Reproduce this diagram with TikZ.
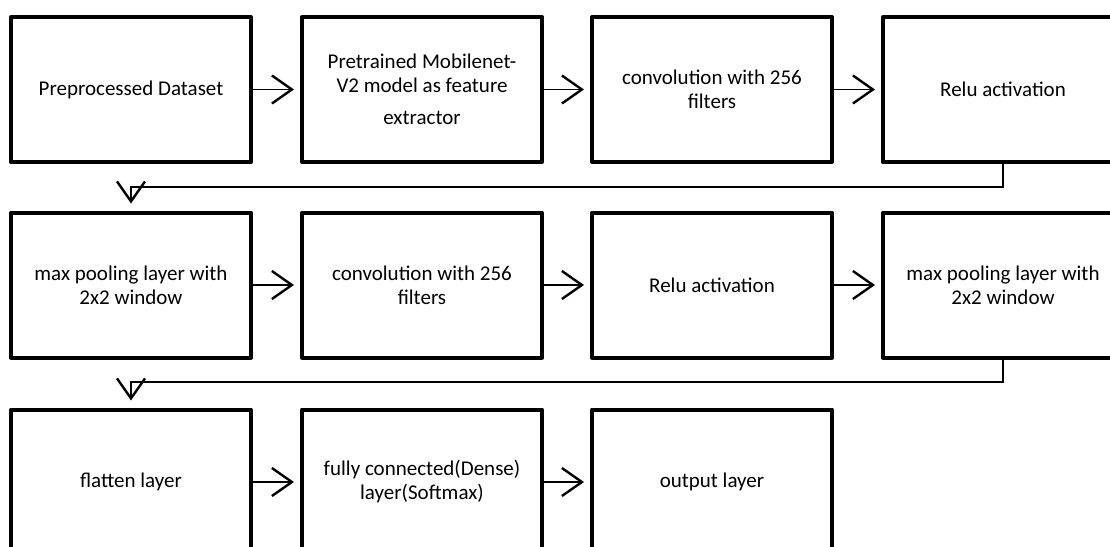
\documentclass[tikz,border=0pt]{standalone}
\usepackage{fontspec}
\setmainfont{Carlito}
\usetikzlibrary{arrows.meta}
\begin{document}
\begin{tikzpicture}[x=1pt,y=-1pt,
  stage/.style={draw, line width=4pt, line join=round, rectangle,
    minimum width=240pt, minimum height=145pt, inner sep=0pt,
    align=center, font=\fontsize{21}{24}\selectfont},
  flow/.style={line width=1.4pt,
    -{Straight Barb[length=20pt 0 0,width=28pt 0 0,line width=2.4pt]}},
  next/.style={flow, shorten >=6pt},
  wrap/.style={flow, shorten >=7pt}]
\useasboundingbox (0,0) rectangle (1110,546);
\clip (0,0) rectangle (1110,546);
\fill[white] (0,0) rectangle (1110,546);
% row 1
\node[stage] (b1) at (131,89.5) {Preprocessed Dataset};
\node[stage] (b2) at (422,89.5) {Pretrained Mobilenet-\\V2 model as feature\\[8pt]extractor};
\node[stage] (b3) at (712,89.5) {convolution with 256\\filters};
\node[stage] (b4) at (1003,89.5) {Relu activation};
% row 2
\node[stage] (b5) at (131,285) {max pooling layer with\\2x2 window};
\node[stage] (b6) at (422,285) {convolution with 256\\filters};
\node[stage] (b7) at (712,285) {Relu activation};
\node[stage] (b8) at (1003,285) {max pooling layer with\\2x2 window};
% row 3
\node[stage] (b9) at (131,482) {flatten layer};
\node[stage] (b10) at (422,482) {fully connected(Dense)\\layer(Softmax)};
\node[stage] (b11) at (712,482) {output layer};
% horizontal links
\draw[next] (b1) -- (b2);
\draw[next] (b2) -- (b3);
\draw[next] (b3) -- (b4);
\draw[next] (b5) -- (b6);
\draw[next] (b6) -- (b7);
\draw[next] (b7) -- (b8);
\draw[next] (b9) -- (b10);
\draw[next] (b10) -- (b11);
% row wrap-around links
\coordinate (k1) at (1003,187);
\coordinate (k2) at (1003,382);
\draw[wrap] (b4.south) -- (k1) -| (b5.north);
\draw[wrap] (b8.south) -- (k2) -| (b9.north);
\end{tikzpicture}
\end{document}
